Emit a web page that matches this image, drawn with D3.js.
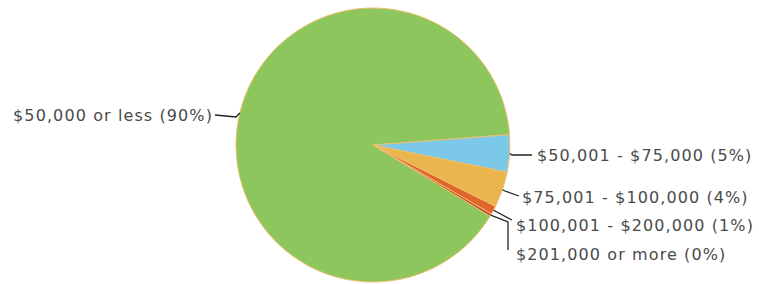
<!DOCTYPE html>
<html><head><meta charset="utf-8">
<script src="https://cdn.jsdelivr.net/npm/d3@7"></script>
<style>html,body{margin:0;padding:0;background:#fff;}svg{display:block;}</style>
</head><body>
<svg id="c" width="759" height="284"></svg>
<script>
const categories = ["$50,000 or less", "$50,001 - $75,000", "$75,001 - $100,000", "$100,001 - $200,000", "$201,000 or more"];
const values = [90.1, 4.4, 4.2, 1.0, 0.3];
const percentLabels = ["90%", "5%", "4%", "1%", "0%"];
const colors = ["#8cc65c", "#7cc8e8", "#ebb54e", "#e0662c", "#c0442a"];

// label layout: elbow point, end point, text position
const labelLayout = [
  {elbow:[236,117], end:[215,115], text:[213,115], anchor:"end"},
  {elbow:[512,155], end:[532,155], text:[537,155], anchor:"start"},
  {elbow:[505,191], end:[519,196], text:[522,197], anchor:"start"},
  {elbow:[512,220], end:[512,220], text:[516,225], anchor:"start"},
  {elbow:[508,222], end:[508,250], text:[516,254], anchor:"start"}
];

const cx = 373, cy = 145, r = 137;
const svg = d3.select("#c");
const g = svg.append("g").attr("transform", `translate(${cx},${cy})`);
const start = 121.3 * Math.PI / 180;
const pie = d3.pie().sort(null).value(d => d).startAngle(start).endAngle(start + 2*Math.PI);
const arcs = pie(values);
const arc = d3.arc().innerRadius(0).outerRadius(r);

g.selectAll("path.slice").data(arcs).enter().append("path")
  .attr("class","slice")
  .attr("d", arc)
  .attr("fill", (d,i) => colors[i])
  .attr("stroke", "#efc070")
  .attr("stroke-width", 1);

const pt = (a, rad) => [cx + rad*Math.sin(a), cy - rad*Math.cos(a)];
const lines = svg.append("g");
arcs.forEach((d,i) => {
  const mid = (d.startAngle + d.endAngle)/2;
  const p0 = pt(mid, r);
  const L = labelLayout[i];
  lines.append("polyline")
    .attr("points", [p0, L.elbow, L.end].map(p => p.join(",")).join(" "))
    .attr("fill","none").attr("stroke","#222").attr("stroke-width",1.3);
  svg.append("text")
    .attr("x", L.text[0]).attr("y", L.text[1])
    .attr("dy","0.35em")
    .attr("text-anchor", L.anchor)
    .attr("font-family","DejaVu Sans, sans-serif")
    .attr("font-size", 16)
    .attr("letter-spacing", 1.1)
    .attr("fill","#4a4a4a")
    .text(`${categories[i]} (${percentLabels[i]})`);
});
</script>
</body></html>
